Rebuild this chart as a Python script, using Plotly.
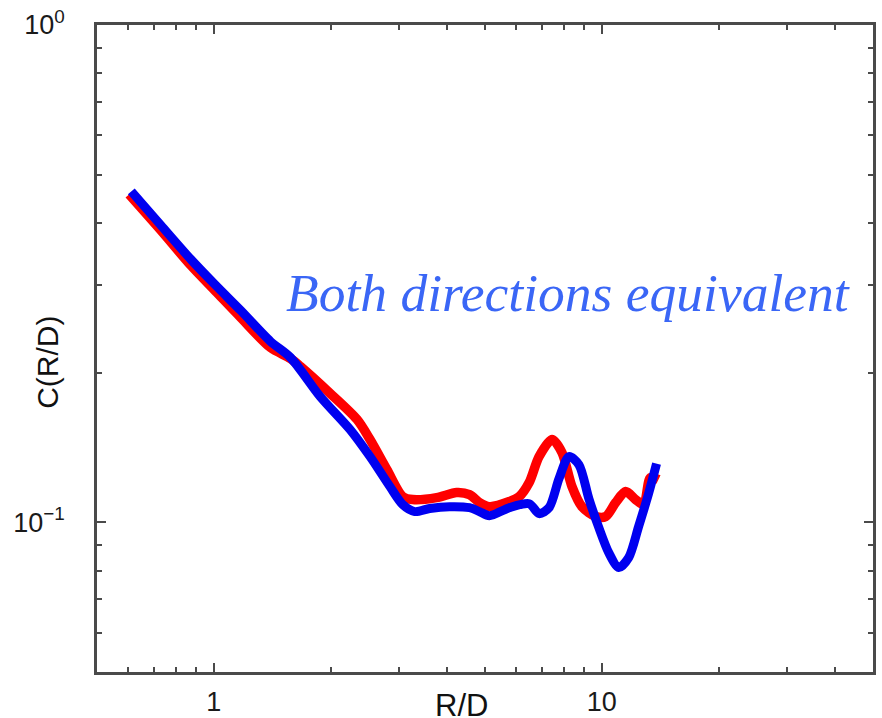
import plotly.graph_objects as go

# Correlation function C(R/D) for the two directions
r_red = [0.605, 0.731, 0.873, 1.012, 1.173, 1.400, 1.576, 1.671, 1.995, 2.341,
         2.527, 2.794, 3.070, 3.256, 3.753, 4.224, 4.560, 4.838, 5.132, 5.775,
         6.126, 6.499, 6.894, 7.444, 7.897, 8.377, 8.887, 9.652, 10.24, 10.86,
         11.52, 12.22, 12.82, 13.35, 14.00]
c_red = [0.4565, 0.3863, 0.3285, 0.2912, 0.2582, 0.2246, 0.2135, 0.2058, 0.1816, 0.1609,
         0.1467, 0.1276, 0.1126, 0.1111, 0.1121, 0.1148, 0.1137, 0.1096, 0.1075, 0.1101,
         0.1126, 0.1202, 0.1356, 0.1467, 0.1381, 0.1180, 0.1075, 0.1027, 0.1027, 0.1096,
         0.1153, 0.1111, 0.1085, 0.1230, 0.1219]

r_blue = [0.613, 0.731, 0.873, 1.012, 1.173, 1.400, 1.576, 1.881, 2.246, 2.527,
          2.844, 3.070, 3.295, 3.601, 4.053, 4.560, 4.838, 5.132, 5.775, 6.499,
          6.894, 7.313, 7.758, 8.230, 8.731, 9.261, 9.824, 10.42, 11.06, 11.73,
          12.44, 13.20, 13.84]
c_blue = [0.4628, 0.3954, 0.3378, 0.2994, 0.2667, 0.2310, 0.2145, 0.1790, 0.1536, 0.1356,
          0.1180, 0.1085, 0.1051, 0.1066, 0.1075, 0.1070, 0.1051, 0.1031, 0.1070, 0.1090,
          0.1041, 0.1070, 0.1224, 0.1356, 0.1306, 0.1116, 0.0976, 0.0869, 0.0811, 0.0849,
          0.0980, 0.1142, 0.1312]

x_major = [1, 10]
x_major_text = ["1", "10"]
x_minor = [0.6, 0.7, 0.8, 0.9, 2, 3, 4, 5, 6, 7, 8, 9, 20, 30, 40]
y_major = [0.1, 1]
y_major_text = ["10<sup>−1</sup>", "10<sup>0</sup>"]
y_minor = [0.06, 0.07, 0.08, 0.09, 0.2, 0.3, 0.4, 0.5, 0.6, 0.7, 0.8, 0.9]

axis_color = "#4a4a4a"
sans = "Liberation Sans, Arial, sans-serif"
tick_font = dict(family=sans, size=27, color="#1a1a1a")

fig = go.Figure()
fig.add_trace(go.Scatter(x=r_red, y=c_red, mode="lines",
                         line=dict(color="#ff0000", width=9.5, shape="spline", smoothing=0.8)))
fig.add_trace(go.Scatter(x=r_blue, y=c_blue, mode="lines",
                         line=dict(color="#0000f0", width=9, shape="spline", smoothing=0.8)))

axis_style = dict(
    showgrid=False, zeroline=False, showline=True, linecolor=axis_color, linewidth=2.5,
    mirror="allticks", ticks="inside", ticklen=9, tickwidth=2, tickcolor=axis_color,
    automargin=False, tickfont=tick_font,
)

fig.update_layout(
    width=882, height=718, showlegend=False,
    margin=dict(l=97, r=9, t=25, b=46),
    paper_bgcolor="white", plot_bgcolor="white",
    font=dict(family=sans, size=27, color="#1a1a1a"),
    xaxis=dict(
        type="log", range=[-0.301, 1.699], tickmode="array",
        tickvals=x_major, ticktext=x_major_text, ticklabelstandoff=4,
        minor=dict(tickvals=x_minor, ticks="inside", ticklen=5, tickwidth=2, tickcolor=axis_color),
        **axis_style,
    ),
    yaxis=dict(
        type="log", range=[-1.301, 0], tickmode="array",
        tickvals=y_major, ticktext=y_major_text, ticklabelstandoff=24,
        minor=dict(tickvals=y_minor, ticks="inside", ticklen=5, tickwidth=2, tickcolor=axis_color),
        **axis_style,
    ),
)

fig.add_annotation(text="R/D", xref="paper", yref="paper", x=0.47, y=-0.021,
                   xanchor="center", yanchor="top", showarrow=False,
                   font=dict(family=sans, size=31, color="#111"))
fig.add_annotation(text="C(R/D)", xref="paper", yref="paper", x=-0.063, y=0.478,
                   xanchor="center", yanchor="middle", textangle=-90, showarrow=False,
                   font=dict(family=sans, size=30, color="#111"))
fig.add_annotation(text="Both directions equivalent", xref="paper", yref="paper",
                   x=0.607, y=0.5858, xanchor="center", yanchor="middle", showarrow=False,
                   font=dict(family="Liberation Serif, Times New Roman, serif", size=53.5,
                             color="#3a66f6", style="italic"))

fig.write_html("out.html")
